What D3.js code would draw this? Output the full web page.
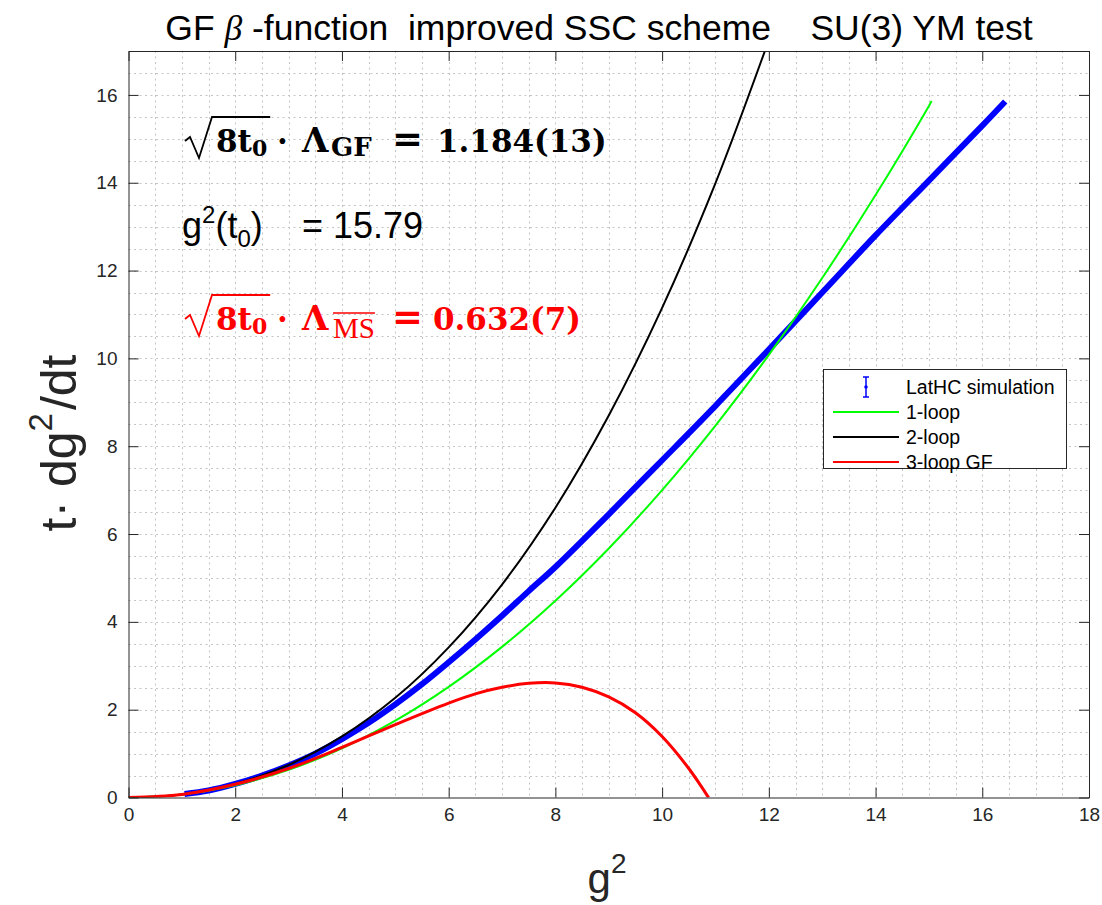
<!DOCTYPE html>
<html>
<head>
<meta charset="utf-8">
<script src="https://cdn.jsdelivr.net/npm/d3@7"></script>
<style>
  body { margin: 0; background: #fff; }
  text { white-space: pre; }
</style>
</head>
<body>
<svg id="chart" width="1102" height="905"></svg>
<script>
// values
const xTicks = [0, 2, 4, 6, 8, 10, 12, 14, 16, 18];
const yTicks = [0, 2, 4, 6, 8, 10, 12, 14, 16];

const latG2  = [1.05, 1.5, 2, 2.5, 3, 3.5, 4, 4.5, 5, 5.5, 6, 6.5, 7, 7.5, 8, 9, 10, 11, 12, 13, 14, 15, 16, 16.43];
const latVal = [0.08, 0.16, 0.31, 0.50, 0.73, 1.0, 1.33, 1.70, 2.12, 2.58, 3.08, 3.60, 4.14, 4.70, 5.25, 6.45, 7.68, 8.92, 10.2, 11.5, 12.8, 14.05, 15.3, 15.85];

const oneLoopG2 = [0, 1, 2, 3, 4, 5, 6, 7, 8, 9, 10, 11, 12, 13, 14, 15, 15.05];
const oneLoop   = [0, 0.07, 0.28, 0.63, 1.12, 1.75, 2.52, 3.43, 4.48, 5.67, 7.0, 8.47, 10.08, 11.83, 13.72, 15.75, 15.86];

const twoLoopG2 = [0, 1, 2, 3, 4, 5, 6, 7, 8, 9, 10, 11, 12, 12.5];
const twoLoop   = [0, 0.07, 0.31, 0.74, 1.39, 2.27, 3.42, 4.85, 6.6, 8.7, 11.15, 13.99, 17.25, 19.0];

const threeLoopG2 = [0, 1, 2, 3, 4, 5, 6, 6.5, 7, 7.5, 8, 8.5, 9, 9.5, 10, 10.5, 10.87];
const threeLoop   = [0, 0.07, 0.30, 0.66, 1.14, 1.66, 2.15, 2.36, 2.51, 2.60, 2.61, 2.51, 2.29, 1.93, 1.39, 0.66, 0];

const legendLabels = ["LatHC simulation", "1-loop", "2-loop", "3-loop GF"];
const seriesColors = ["#0000ff", "#00ff00", "#000000", "#ff0000"];

const svg = d3.select("#chart");
const axisColor = "#262626";
const sans = "'Liberation Sans', Arial, Helvetica, sans-serif";
const serif = "'DejaVu Serif', serif";
const times = "'Liberation Serif', serif";

const x = d3.scaleLinear().domain([0, 18]).range([128.5, 1089]);
const y = d3.scaleLinear().domain([0, 17]).range([797.5, 51]);

svg.append("rect").attr("width", 1102).attr("height", 905).attr("fill", "#fff");

// grid (dotted, every 0.5)
const grid = svg.append("g").attr("stroke", "#c4c4c4").attr("stroke-width", 1).attr("stroke-dasharray", "2,3.5");
grid.selectAll("line.vx").data(d3.range(1, 36).map(d => d / 2)).enter().append("line")
    .attr("x1", d => Math.round(x(d)) + 0.5).attr("x2", d => Math.round(x(d)) + 0.5)
    .attr("y1", y(17)).attr("y2", y(0));
grid.selectAll("line.hy").data(d3.range(1, 34).map(d => d / 2)).enter().append("line")
    .attr("y1", d => Math.round(y(d)) + 0.5).attr("y2", d => Math.round(y(d)) + 0.5)
    .attr("x1", x(0)).attr("x2", x(18));

// curves
svg.append("clipPath").attr("id", "plotclip").append("rect")
    .attr("x", x(0)).attr("y", y(17)).attr("width", x(18) - x(0)).attr("height", y(0) - y(17));
const plot = svg.append("g").attr("clip-path", "url(#plotclip)");

function drawCurve(xs, ys, color, width) {
  const line = d3.line().x(d => x(d[0])).y(d => y(d[1])).curve(d3.curveCatmullRom.alpha(0.5));
  plot.append("path").datum(xs.map((v, i) => [v, ys[i]]))
      .attr("d", line).attr("fill", "none").attr("stroke", color)
      .attr("stroke-width", width).attr("stroke-linejoin", "round");
}
drawCurve(latG2, latVal, seriesColors[0], 6);
drawCurve(oneLoopG2, oneLoop, seriesColors[1], 2);
drawCurve(twoLoopG2, twoLoop, seriesColors[2], 2);
drawCurve(threeLoopG2, threeLoop, seriesColors[3], 3);

// axes, ticks inward on all four sides
function styleAxis(g) {
  g.selectAll("path,line").attr("stroke", axisColor);
  g.selectAll("text").attr("fill", axisColor).attr("font-family", sans).attr("font-size", 19);
}
svg.append("g").attr("transform", `translate(0,${y(0)})`)
    .call(d3.axisBottom(x).tickValues(xTicks).tickSize(-10).tickSizeOuter(0).tickPadding(10))
    .call(styleAxis);
svg.append("g").attr("transform", `translate(0,${y(17)})`)
    .call(d3.axisTop(x).tickValues(xTicks).tickSize(-10).tickSizeOuter(0).tickFormat(""))
    .call(styleAxis);
svg.append("g").attr("transform", `translate(${x(0)},0)`)
    .call(d3.axisLeft(y).tickValues(yTicks).tickSize(-10).tickSizeOuter(0).tickPadding(11))
    .call(styleAxis);
svg.append("g").attr("transform", `translate(${x(18)},0)`)
    .call(d3.axisRight(y).tickValues(yTicks).tickSize(-10).tickSizeOuter(0).tickFormat(""))
    .call(styleAxis);

// title
const title = svg.append("text").attr("x", 599).attr("y", 40)
    .attr("text-anchor", "middle").attr("font-family", sans).attr("font-size", 35.5).attr("fill", "#000");
title.append("tspan").text("GF ");
title.append("tspan").attr("font-family", times).attr("font-style", "italic").text("β");
title.append("tspan").text(" -function  improved SSC scheme    SU(3) YM test");

// axis labels
const xl = svg.append("text").attr("x", 607).attr("y", 893).attr("text-anchor", "middle")
    .attr("font-family", sans).attr("font-size", 42).attr("fill", axisColor);
xl.append("tspan").text("g");
xl.append("tspan").attr("font-size", 28).attr("dy", -20).text("2");

const yl = svg.append("text").attr("transform", "translate(76,443) rotate(-90)")
    .attr("text-anchor", "middle").attr("font-family", sans).attr("font-size", 50).attr("fill", axisColor);
yl.append("tspan").text("t· dg");
yl.append("tspan").attr("font-size", 33).attr("dy", -24).text("2");
yl.append("tspan").attr("dy", 24).attr("dx", 3).text("/dt");

// annotations: laid out piece by piece, left to right
function flow(g, x0, yb, color, pieces) {
  let cx = x0;
  const pos = [];
  pieces.forEach(p => {
    if (p.at !== undefined) cx = p.at;
    const t = g.append("text").attr("x", cx).attr("y", yb + (p.dy || 0))
        .attr("font-size", p.fs).attr("font-family", p.ff || serif)
        .attr("font-weight", p.fw || "bold").attr("fill", color).text(p.t);
    const w = t.node().getComputedTextLength();
    pos.push([cx, cx + w]);
    cx += w + (p.gap || 0);
  });
  return pos;
}
function mathLine(yb, color, sub, value, valueAt) {
  const g = svg.append("g");
  const pos = flow(g, 216, yb, color, [
    {t: "8t", fs: 31},
    {t: "0", fs: 22, dy: 4},
    {t: "·", fs: 31, at: 277},
    {t: "Λ", fs: 34, at: 302},
    sub,
    {t: "=", fs: 37, at: 392},
    {t: value, fs: 31, at: valueAt}
  ]);
  const barEnd = pos[1][1] + 3;
  g.append("path")
      .attr("d", `M185,${yb - 11} L190,${yb - 15} L199,${yb + 6} L212,${yb - 35} H${barEnd}`)
      .attr("fill", "none").attr("stroke", color).attr("stroke-width", 1.8).attr("stroke-linejoin", "miter");
  return pos;
}
mathLine(152, "#000", {t: "GF", fs: 26, dy: 4, at: 331}, "1.184(13)", 437);
const redPos = mathLine(330, "#ff0000", {t: "MS", fs: 29, ff: times, fw: "normal", dy: 8, at: 333}, "0.632(7)", 433);
svg.append("line").attr("x1", redPos[4][0]).attr("x2", redPos[4][1]).attr("y1", 313).attr("y2", 313)
    .attr("stroke", "#ff0000").attr("stroke-width", 1.5);

const l2 = svg.append("text").attr("x", 182).attr("y", 238).attr("font-family", sans)
    .attr("font-size", 36).attr("fill", "#000");
l2.append("tspan").text("g");
l2.append("tspan").attr("font-size", 24).attr("dy", -15).text("2");
l2.append("tspan").attr("dy", 15).text("(t");
l2.append("tspan").attr("font-size", 24).attr("dy", 9).text("0");
l2.append("tspan").attr("dy", -9).text(")");
svg.append("text").attr("x", 302).attr("y", 238).attr("font-family", sans)
    .attr("font-size", 36).attr("fill", "#000").text("= 15.79");

// legend
const lg = svg.append("g");
lg.append("rect").attr("x", 823.5).attr("y", 369.5).attr("width", 243).attr("height", 99)
    .attr("fill", "#fff").attr("stroke", axisColor).attr("stroke-width", 1);
const rowY = i => 387 + i * 25;
legendLabels.forEach((lab, i) => {
  if (i === 0) {
    const cx = 866;
    lg.append("line").attr("x1", cx).attr("x2", cx).attr("y1", rowY(i) - 10).attr("y2", rowY(i) + 10)
        .attr("stroke", seriesColors[i]).attr("stroke-width", 1.5);
    [-10, 10].forEach(o => lg.append("line").attr("x1", cx - 3).attr("x2", cx + 3)
        .attr("y1", rowY(i) + o).attr("y2", rowY(i) + o).attr("stroke", seriesColors[i]).attr("stroke-width", 1.5));
    lg.append("circle").attr("cx", cx).attr("cy", rowY(i)).attr("r", 1.8).attr("fill", seriesColors[i]);
  } else {
    lg.append("line").attr("x1", 833).attr("x2", 899).attr("y1", rowY(i)).attr("y2", rowY(i))
        .attr("stroke", seriesColors[i]).attr("stroke-width", 2);
  }
  lg.append("text").attr("x", 906).attr("y", rowY(i)).attr("dy", "0.35em")
      .attr("font-family", sans).attr("font-size", 19.5).attr("fill", "#000").text(lab);
});
</script>
</body>
</html>
